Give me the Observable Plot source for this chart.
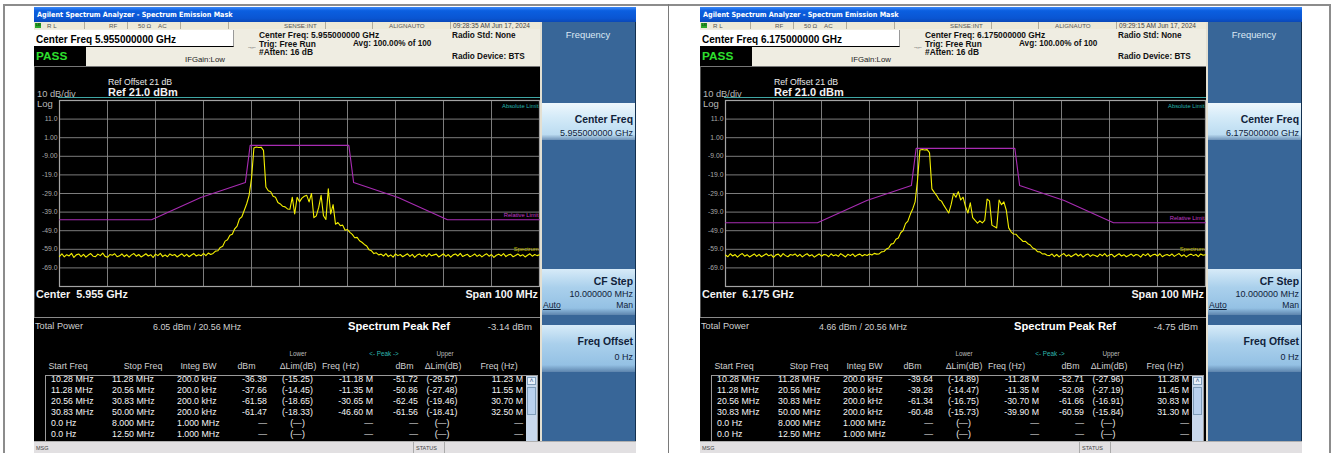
<!DOCTYPE html>
<html><head><meta charset="utf-8">
<script src="https://cdn.jsdelivr.net/npm/d3@7"></script>
<script src="https://cdn.jsdelivr.net/npm/@observablehq/plot@0.6"></script>
<style>
html,body{margin:0;padding:0;background:#fff;width:1332px;height:453px;overflow:hidden;font-family:"Liberation Sans",Arial,sans-serif;}
#page{position:relative;width:1332px;height:453px;overflow:hidden;}
.a{position:absolute;white-space:pre;}
.box{position:absolute;box-sizing:border-box;}
</style></head><body>
<div id="page"></div>
<script>
// ---------------- DATA ----------------
const windowTitle = "Agilent Spectrum Analyzer - Spectrum Emission Mask";
const screenOffsetsX = [34, 700];
const centerFreqLong = ["5.955000000 GHz", "6.175000000 GHz"];
const centerFreqShort = ["5.955 GHz", "6.175 GHz"];
const timeStamps = ["09:28:35 AM Jun 17, 2024", "09:29:15 AM Jun 17, 2024"];
const totalPowers = ["6.05 dBm / 20.56 MHz", "4.66 dBm / 20.56 MHz"];
const peakRefs = ["-3.14 dBm", "-4.75 dBm"];

// sweep: span 100 MHz around centre, sampled every 0.5 MHz
const sweepStartMHz = -50;
const sweepStepMHz = 0.5;
const spanMHz = [-50, 50];
const yDomainDbm = [-79, 21];
const xGridMHz = [-40, -30, -20, -10, 0, 10, 20, 30, 40];
const yGridDbm = [11, 1, -9, -19, -29, -39, -49, -59, -69];
const yTickValues = [11, 1, -9, -19, -29, -39, -49, -59, -69];
const yTickLabels = ["11.0", "1.00", "-9.00", "-19.0", "-29.0", "-39.0", "-49.0", "-59.0", "-69.0"];

// relative limit mask (offset MHz, dBm)
const maskFreqsMHz = [-50, -30.83, -20.56, -11.28, -10.28, 10.28, 11.28, 20.56, 30.83, 50];
const maskLeftDbm  = [-43.14, -43.14, -31.14, -23.14, -3.14, -3.14, -23.14, -31.14, -43.14, -43.14];
const maskRightDbm = [-44.75, -44.75, -32.75, -24.75, -4.75, -4.75, -24.75, -32.75, -44.75, -44.75];

// spectrum traces (dBm), read from the screens
const traceLeftDbm = [
-62.8,-61.4,-63.1,-61.9,-62.6,-61.2,-63.4,-62.0,-61.5,-62.9,
-61.7,-63.2,-62.1,-61.3,-62.7,-63.0,-61.6,-62.4,-61.1,-62.8,
-63.3,-61.8,-62.2,-61.4,-63.0,-62.5,-61.5,-62.9,-61.9,-63.2,
-62.0,-61.3,-62.7,-61.8,-63.1,-62.3,-61.4,-62.6,-61.9,-63.4,
-61.6,-62.4,-61.2,-62.9,-62.0,-63.0,-61.5,-62.3,-61.8,-63.1,
-62.2,-61.4,-62.8,-61.7,-63.0,-62.1,-61.3,-62.6,-61.9,-62.5,
-61.2,-62.4,-61.0,-61.8,
-61.2,-60.0,-59.8,-58.0,-57.4,-54.6,-53.9,-51.5,-50.9,-48.0,
-46.5,-42.6,-41.5,-38.0,-34.5,-30.0,-21.0,-4.5,-4.0,-4.3,
-4.1,-5.8,-25.5,-27.5,-28.0,-30.5,-31.0,-33.8,-34.6,-35.9,
-36.2,-37.3,-37.5,-31.0,-40.0,-31.0,-33.5,-31.5,-30.5,-30.0,
-33.5,-29.0,-42.0,-41.0,-36.5,-30.0,-41.0,-43.0,-26.5,-40.0,
-35.0,-45.5,-44.6,-46.3,-46.0,-48.8,-48.4,-49.9,-51.0,-52.8,
-52.6,-54.4,-55.2,-56.4,-57.2,-59.3,-59.8,-61.3,-60.9,-62.0,
-61.6,
-62.6,-61.3,-62.9,-62.0,-63.2,-61.5,-62.4,-61.8,-63.0,-62.2,
-61.4,-62.8,-61.7,-63.3,-62.1,-61.5,-62.7,-61.9,-63.0,-61.3,
-62.5,-62.0,-61.6,-63.1,-62.3,-61.4,-62.8,-61.8,-63.2,-62.0,
-61.5,-62.6,-61.2,-62.9,-62.2,-61.7,-63.0,-62.4,-61.5,-62.8,
-61.9,-63.1,-62.1,-61.4,-62.7,-61.8,-63.3,-62.2,-61.6,-62.5,
-61.3,-62.9,-62.0,-61.7,-63.0,-62.3,-61.5,-62.6,-61.9,-63.1,
-62.2,-61.4,-62.7,-61.8,-62.4,-61.9
];
const traceRightDbm = [
-62.1,-63.0,-61.4,-62.6,-61.8,-63.2,-62.0,-61.3,-62.7,-61.9,
-63.1,-62.3,-61.5,-62.8,-61.7,-63.0,-62.2,-61.4,-62.5,-61.9,
-63.3,-62.0,-61.6,-62.9,-61.3,-62.4,-63.0,-61.8,-62.2,-61.5,
-62.8,-61.7,-63.1,-62.1,-61.4,-62.6,-61.9,-63.2,-62.3,-61.5,
-62.7,-61.8,-62.0,-63.0,-61.4,-62.5,-61.9,-62.8,-61.3,-62.2,
-63.1,-61.7,-62.4,-61.5,-62.9,-62.0,-61.6,-62.6,-61.8,-62.3,
-61.5,-62.1,-61.2,-61.6,
-61.5,-60.4,-60.2,-58.9,-58.3,-56.2,-55.9,-53.6,-52.9,-50.1,
-48.9,-45.2,-43.8,-40.2,-37.3,-33.5,-22.0,-5.6,-5.3,-5.6,
-5.4,-7.0,-26.5,-28.4,-30.1,-32.4,-33.1,-35.4,-37.5,-39.5,
-35.0,-29.0,-31.0,-28.0,-32.5,-31.0,-36.0,-39.5,-34.0,-42.0,
-43.5,-44.9,-43.7,-44.8,-43.5,-32.0,-33.0,-46.0,-46.8,-47.5,
-32.5,-35.0,-33.5,-38.0,-47.5,-49.6,-50.8,-50.9,-52.3,-53.5,
-54.8,-54.7,-56.0,-56.7,-58.3,-58.9,-60.3,-60.4,-61.5,-61.4,
-62.2,
-62.4,-61.5,-62.9,-61.8,-63.1,-62.0,-61.3,-62.7,-61.9,-63.0,
-62.2,-61.4,-62.6,-61.7,-63.2,-62.1,-61.5,-62.8,-61.9,-62.3,
-63.0,-61.6,-62.5,-61.3,-62.8,-62.0,-61.7,-63.1,-62.2,-61.4,
-62.6,-61.9,-63.0,-62.3,-61.5,-62.7,-61.8,-62.1,-63.2,-61.6,
-62.4,-61.3,-62.9,-62.0,-61.7,-62.6,-61.4,-63.0,-62.2,-61.8,
-62.5,-61.5,-62.8,-62.0,-61.3,-62.7,-61.9,-63.1,-62.1,-61.6,
-62.4,-61.8,-62.9,-61.5,-62.2,-61.9
];

// result table
const tableHeaders = ["Start Freq", "Stop Freq", "Integ BW", "dBm", "\u0394Lim(dB)", "Freq (Hz)", "dBm", "\u0394Lim(dB)", "Freq (Hz)"];
const tableLeftRows = [
["10.28 MHz","11.28 MHz","200.0 kHz","-36.39","(-15.25)","-11.18 M","-51.72","(-29.57)","11.23 M"],
["11.28 MHz","20.56 MHz","200.0 kHz","-37.66","(-14.45)","-11.35 M","-50.86","(-27.48)","11.55 M"],
["20.56 MHz","30.83 MHz","200.0 kHz","-61.58","(-18.65)","-30.65 M","-62.45","(-19.46)","30.70 M"],
["30.83 MHz","50.00 MHz","200.0 kHz","-61.47","(-18.33)","-46.60 M","-61.56","(-18.41)","32.50 M"],
["0.0 Hz","8.000 MHz","1.000 MHz","\u2014","(\u2014)","\u2014","\u2014","(\u2014)","\u2014"],
["0.0 Hz","12.50 MHz","1.000 MHz","\u2014","(\u2014)","\u2014","\u2014","(\u2014)","\u2014"]
];
const tableRightRows = [
["10.28 MHz","11.28 MHz","200.0 kHz","-39.64","(-14.89)","-11.28 M","-52.71","(-27.96)","11.28 M"],
["11.28 MHz","20.56 MHz","200.0 kHz","-39.28","(-14.47)","-11.35 M","-52.08","(-27.19)","11.45 M"],
["20.56 MHz","30.83 MHz","200.0 kHz","-61.34","(-16.75)","-30.70 M","-61.66","(-16.91)","30.83 M"],
["30.83 MHz","50.00 MHz","200.0 kHz","-60.48","(-15.73)","-39.90 M","-60.59","(-15.84)","31.30 M"],
["0.0 Hz","8.000 MHz","1.000 MHz","\u2014","(\u2014)","\u2014","\u2014","(\u2014)","\u2014"],
["0.0 Hz","12.50 MHz","1.000 MHz","\u2014","(\u2014)","\u2014","\u2014","(\u2014)","\u2014"]
];

const maskByScreen = [maskLeftDbm, maskRightDbm];
const traceByScreen = [traceLeftDbm, traceRightDbm];
const tableByScreen = [tableLeftRows, tableRightRows];

// ---------------- LAYOUT HELPERS ----------------
const page = document.getElementById("page");
function box(parent, x, y, w, h, style) {
  const d = document.createElement("div");
  d.className = "box";
  Object.assign(d.style, {left: x + "px", top: y + "px", width: w + "px", height: h + "px"}, style || {});
  parent.appendChild(d);
  return d;
}
function txt(parent, x, y, s, size, color, opts) {
  opts = opts || {};
  const d = document.createElement("div");
  d.className = "a";
  d.textContent = s;
  const lh = size * 1.2;
  Object.assign(d.style, {
    left: x + "px", top: (y - lh / 2) + "px", fontSize: size + "px", lineHeight: lh + "px",
    color: color, fontWeight: opts.weight || "normal"
  });
  if (opts.family) d.style.fontFamily = opts.family;
  if (opts.anchor === "end") d.style.transform = "translateX(-100%)";
  if (opts.anchor === "middle") d.style.transform = "translateX(-50%)";
  if (opts.underline) d.style.textDecoration = "underline";
  if (opts.spacing != null) d.style.letterSpacing = opts.spacing + "px";
  parent.appendChild(d);
  return d;
}

// page frame (table borders)
box(page, 3, 4, 1327, 1.5, {background: "#8c8c8c"});
box(page, 3, 4, 1.5, 449, {background: "#8c8c8c"});
box(page, 667.5, 4, 1.8, 449, {background: "#7a7a7a"});
box(page, 1329, 4, 1.5, 449, {background: "#8c8c8c"});

function buildScreen(k) {
  const S = box(page, screenOffsetsX[k], 7, 602, 446, {overflow: "hidden", background: "#000"});
  // title bar
  box(S, 0, 0, 602, 15, {background: "linear-gradient(#3d8af7 0%, #0b5fe0 25%, #0a55d2 75%, #0a48b8 100%)"});
  txt(S, 3, 8, windowTitle, 7.2, "#ffffff", {weight: "bold", family: "'DejaVu Sans Condensed','Liberation Sans Narrow','Liberation Sans',sans-serif"});
  // status row
  const st = box(S, 0, 15, 506, 7.5, {background: "#ece9d8", borderBottom: "1px solid #b8b4a4"});
  box(st, 1, 1, 6, 5, {background: "#2aa82a"});
  txt(st, 2, 3.5, "LXI", 3, "#000");
  const divs = [50, 93, 146, 194, 291, 338, 416];
  divs.forEach(x => box(st, x, 0, 0.8, 7, {background: "#b0ac9c"}));
  txt(st, 13, 3.6, "R L", 6.2, "#555");
  txt(st, 75, 3.6, "RF", 6.2, "#555");
  txt(st, 104, 3.6, "50 \u03a9    AC", 6.2, "#555");
  txt(st, 250, 3.6, "SENSE:INT", 6.2, "#555");
  txt(st, 355, 3.6, "ALIGNAUTO", 6.2, "#555");
  txt(st, 419, 3.6, timeStamps[k], 6.6, "#444");
  // info block
  box(S, 0, 22, 506, 37, {background: "#efede2"});
  box(S, 0, 22.5, 200, 17.5, {background: "#ffffff", borderBottom: "1px solid #000", borderRight: "1px solid #999"});
  txt(S, 2, 32.5, "Center Freq " + centerFreqLong[k], 10, "#000", {weight: "bold"});
  box(S, 0, 40, 52, 19, {background: "#000"});
  txt(S, 2, 49.5, "PASS", 11.8, "#2ee02e", {weight: "bold"});
  txt(S, 151, 52.5, "IFGain:Low", 7.8, "#222");
  txt(S, 213, 41, "\u2192\u2190", 6, "#222", {spacing: -2});
  txt(S, 225, 28.5, "Center Freq: " + centerFreqLong[k], 8.4, "#111", {weight: "bold"});
  txt(S, 225, 37, "Trig: Free Run", 8.4, "#111", {weight: "bold"});
  txt(S, 319, 37, "Avg: 100.00% of 100", 8.2, "#111", {weight: "bold"});
  txt(S, 225, 45.5, "#Atten: 16 dB", 8.4, "#111", {weight: "bold"});
  txt(S, 418, 29, "Radio Std: None", 8.2, "#111", {weight: "bold"});
  txt(S, 418, 50, "Radio Device: BTS", 8.2, "#111", {weight: "bold"});

  // display area
  box(S, 0, 59, 506, 252, {background: "#000", borderTop: "1px solid #777", borderLeft: "1px solid #555"});
  txt(S, 74, 75, "Ref Offset 21 dB", 8.7, "#e8e8e8");
  txt(S, 74, 86, "Ref 21.0 dBm", 11, "#f2f2f2", {weight: "bold"});
  txt(S, 3, 88, "10 dB/div", 9.3, "#b8b8b8");
  txt(S, 3, 96.5, "Log", 9.5, "#b8b8b8");
  box(S, 24, 90, 482, 1, {background: "#3fa7a4"});

  const traceVals = traceByScreen[k];
  const traceData = traceVals.map((v, i) => ({f: sweepStartMHz + i * sweepStepMHz, v}));
  const maskVals = maskByScreen[k];
  const maskData = maskFreqsMHz.map((f, i) => ({f, v: maskVals[i]}));
  const chart = Plot.plot({
    width: 506, height: 195,
    marginLeft: 25, marginRight: 1, marginTop: 5, marginBottom: 4,
    style: {background: "transparent", fontFamily: "'Liberation Sans',Arial,sans-serif", overflow: "visible"},
    x: {domain: spanMHz, axis: null},
    y: {domain: yDomainDbm},
    marks: [
      Plot.gridX(xGridMHz, {stroke: "#8a8a8a", strokeOpacity: 1, strokeWidth: 0.9}),
      Plot.gridY(yGridDbm, {stroke: "#8a8a8a", strokeOpacity: 1, strokeWidth: 0.9}),
      Plot.frame({stroke: "#a4a4a4", strokeWidth: 1.2}),
      Plot.axisY(yTickValues, {tickSize: 0, tickPadding: 2, label: null,
        tickFormat: d => yTickLabels[yTickValues.indexOf(d)], fill: "#a8a8a8", fontSize: 6.8}),
      Plot.line(maskData, {x: "f", y: "v", stroke: "#a82cb2", strokeWidth: 1.1}),
      Plot.line(traceData, {x: "f", y: "v", stroke: "#f4f000", strokeWidth: 1.1}),
      Plot.text(["Absolute Limit"], {text: d => d, frameAnchor: "top-right", dx: -1, dy: 3, fill: "#26b6b0", fontSize: 5.8, textAnchor: "end"}),
      Plot.text(["Relative Limit"], {text: d => d, x: spanMHz[1], y: maskVals[maskVals.length - 1], dx: -1, dy: -4.5, fill: "#c23cc8", fontSize: 5.8, textAnchor: "end"}),
      Plot.text(["Spectrum"], {text: d => d, x: spanMHz[1], y: traceVals[traceVals.length - 1], dx: -1, dy: -6, fill: "#c8c400", fontSize: 5.8, textAnchor: "end"})
    ]
  });
  chart.style.position = "absolute";
  chart.style.left = "0px";
  chart.style.top = "88px";
  S.appendChild(chart);
  txt(S, 2, 287.5, "Center  " + centerFreqShort[k], 10.8, "#f4f4f4", {weight: "bold"});
  txt(S, 504, 287.5, "Span 100 MHz", 10.8, "#f4f4f4", {weight: "bold", anchor: "end"});

  // result table
  box(S, 0, 310, 506, 1.2, {background: "#8a8a8a"});
  txt(S, 1, 320, "Total Power", 9.2, "#cfcfcf");
  txt(S, 119, 320, totalPowers[k], 8.9, "#cfcfcf");
  txt(S, 314, 320, "Spectrum Peak Ref", 11.2, "#ffffff", {weight: "bold"});
  txt(S, 498, 320, peakRefs[k], 9.6, "#cfcfcf", {anchor: "end"});
  txt(S, 264, 347, "Lower", 6.3, "#bdbdbd", {anchor: "middle"});
  txt(S, 350, 347, "<- Peak ->", 6.3, "#2fb7b0", {anchor: "middle"});
  txt(S, 411, 347, "Upper", 6.3, "#bdbdbd", {anchor: "middle"});
  const hdrX = [34, 109, 164.5, 212.5, 264, 306.5, 370.5, 409, 465];
  tableHeaders.forEach((h, i) => txt(S, hdrX[i], 359, h, 8.8, "#cfcfcf", {anchor: "middle"}));
  box(S, 11, 368, 493, 70, {border: "1px solid #9a9a9a"});
  // scrollbar
  box(S, 492, 369, 11, 66, {background: "#c8d8ec"});
  box(S, 493, 370, 9, 8, {background: "#e8f0fa", border: "1px solid #7f9db9"});
  box(S, 493, 380, 9, 28, {background: "#b9d1ee", border: "1px solid #7f9db9"});
  txt(S, 497.5, 374, "\u02c4", 7, "#3b5b8a", {anchor: "middle"});
  const colX = [17, 78, 143, 233, 263.5, 339, 384, 408, 489];
  const colA = ["start", "start", "start", "end", "middle", "end", "end", "middle", "end"];
  tableByScreen[k].forEach((row, r) => {
    const y = 372.5 + r * 10.9;
    row.forEach((c, i) => txt(S, colX[i], y, c, 8.8, "#f4f4f4", {anchor: colA[i]}));
  });

  // softkey panel
  const P = box(S, 506, 15, 96, 420, {background: "#386698", borderLeft: "2px solid #e4e0d2", borderRight: "1px solid #13304f"});
  txt(P, 46, 13, "Frequency", 9.4, "#dce8f4", {anchor: "middle"});
  const btn = (y, h, light) => box(P, 0, y, 93, h, {
    background: light ? "linear-gradient(#eef7fd 0%, #d3eaf8 40%, #bcdcf1 85%, #6f93b8 100%)"
                      : "linear-gradient(#d7ebf8 0%, #aad0ec 40%, #94c1e4 85%, #5d84ad 100%)"});
  btn(81, 37, true);
  txt(P, 91, 98, "Center Freq", 10.4, "#10223a", {weight: "bold", anchor: "end"});
  txt(P, 91, 111, centerFreqLong[k], 9, "#10223a", {anchor: "end"});
  btn(247, 46, false);
  txt(P, 91, 260, "CF Step", 10.4, "#10223a", {weight: "bold", anchor: "end"});
  txt(P, 91, 272, "10.000000 MHz", 9, "#10223a", {anchor: "end"});
  txt(P, 1, 283, "Auto", 8.6, "#10223a", {underline: true});
  txt(P, 91, 283, "Man", 8.6, "#10223a", {anchor: "end"});
  btn(303, 47, false);
  txt(P, 91, 320, "Freq Offset", 10.4, "#10223a", {weight: "bold", anchor: "end"});
  txt(P, 91, 335, "0 Hz", 9, "#10223a", {anchor: "end"});

  // message bar
  const M = box(S, 0, 434, 602, 12, {background: "#e2e0e2", borderTop: "1px solid #b0b0b0"});
  txt(M, 2, 6, "MSG", 5.5, "#444");
  box(M, 379, 0, 0.8, 12, {background: "#aaa"});
  txt(M, 382, 6, "STATUS", 5.5, "#444");
  box(M, 410, 0, 0.8, 12, {background: "#aaa"});
}
buildScreen(0);
buildScreen(1);
</script>
</body></html>
